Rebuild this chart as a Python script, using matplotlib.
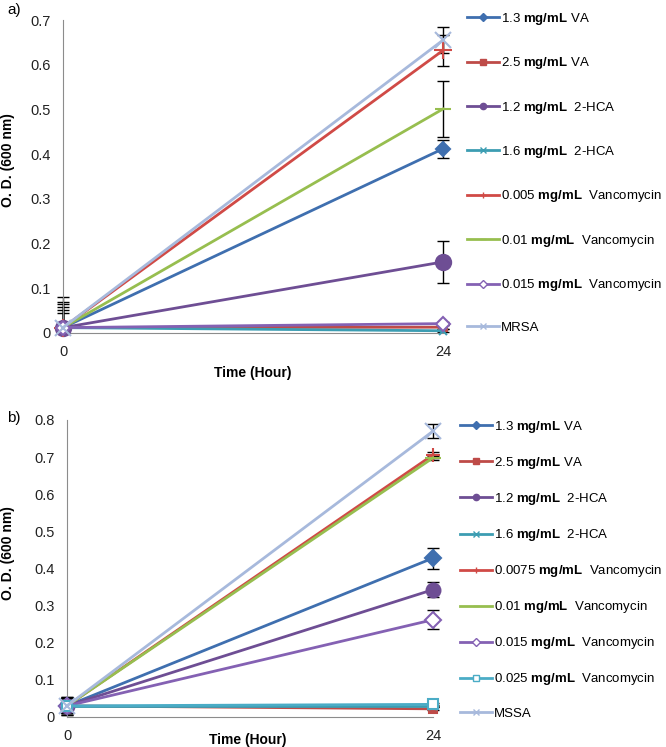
import matplotlib
matplotlib.use("Agg")
import matplotlib.pyplot as plt
import numpy as np

plt.rcParams['font.family'] = ['Liberation Sans', 'DejaVu Sans']
plt.rcParams['mathtext.fontset'] = 'custom'
plt.rcParams['mathtext.rm'] = 'Liberation Sans'
plt.rcParams['mathtext.bf'] = 'Liberation Sans:bold'

hours = [0, 24]

# panel a (MRSA)
labels_a = ['1.3 $\\mathbf{mg/mL}$ VA', '2.5 $\\mathbf{mg/mL}$ VA',
            '1.2 $\\mathbf{mg/mL}$  2-HCA', '1.6 $\\mathbf{mg/mL}$  2-HCA',
            '0.005 $\\mathbf{mg/mL}$  Vancomycin', '0.01 $\\mathbf{mg/mL}$  Vancomycin',
            '0.015 $\\mathbf{mg/mL}$  Vancomycin', 'MRSA']
od0_a = [0.012, 0.012, 0.012, 0.012, 0.012, 0.012, 0.012, 0.012]
od24_a = [0.412, 0.013, 0.159, 0.005, 0.632, 0.501, 0.021, 0.655]
err0_a = [0.033, 0.046, 0.053, 0.005, 0.068, 0.057, 0.010, 0.040]
err24_a = [0.020, 0.004, 0.047, 0.003, 0.035, 0.063, 0.004, 0.029]

# panel b (MSSA)
labels_b = ['1.3 $\\mathbf{mg/mL}$ VA', '2.5 $\\mathbf{mg/mL}$ VA',
            '1.2 $\\mathbf{mg/mL}$  2-HCA', '1.6 $\\mathbf{mg/mL}$  2-HCA',
            '0.0075 $\\mathbf{mg/mL}$  Vancomycin', '0.01 $\\mathbf{mg/mL}$  Vancomycin',
            '0.015 $\\mathbf{mg/mL}$  Vancomycin', '0.025 $\\mathbf{mg/mL}$  Vancomycin',
            'MSSA']
od0_b = [0.030, 0.030, 0.030, 0.030, 0.030, 0.030, 0.030, 0.030, 0.030]
od24_b = [0.428, 0.022, 0.343, 0.030, 0.706, 0.698, 0.262, 0.034, 0.770]
err0_b = [0.020, 0.025, 0.015, 0.020, 0.025, 0.010, 0.015, 0.020, 0.020]
err24_b = [0.028, 0.004, 0.020, 0.003, 0.008, 0.005, 0.025, 0.004, 0.019]

# style per series: colour, marker, size, face
style_a = [('#3F6FAF', 'D', 7, None), ('#BE4B48', 's', 6, None),
           ('#6E4E94', 'o', 11, None), ('#3C9DB2', 'x', 6, None),
           ('#D04A46', '+', 13, None), ('#97BE4F', '_', 11, None),
           ('#8461B3', 'D', 7, 'white'), ('#A7B9DC', 'x', 12, None)]
style_b = [('#3F6FAF', 'D', 8, None), ('#BE4B48', 's', 6, None),
           ('#6E4E94', 'o', 10, None), ('#3C9DB2', 'x', 6, None),
           ('#D04A46', '+', 10, None), ('#97BE4F', '_', 11, None),
           ('#8461B3', 'D', 8, 'white'), ('#4BACC6', 's', 7, 'white'),
           ('#A7B9DC', 'x', 12, None)]


def draw(ax, labels, od0, od24, err0, err24, styles, ymax):
    for i in range(len(labels)):
        y = np.array([od0[i], od24[i]])
        e = np.array([err0[i], err24[i]])
        lower = np.minimum(e, y)
        c, m, ms, fc = styles[i]
        ax.errorbar(hours, y, yerr=[lower, e], fmt='none', ecolor='black',
                    elinewidth=1, capsize=4, capthick=1, clip_on=False, zorder=2)
        ax.plot(hours, y, color=c, lw=2, marker=m, ms=ms, mew=1.5,
                mfc=fc if fc else c, mec=c, label=labels[i], clip_on=False, zorder=3)
    ax.set_xlim(0, 24)
    ax.set_ylim(0, ymax)
    ax.set_xticks(hours)
    ax.set_yticks(np.arange(0, ymax + 0.01, 0.1))
    ax.set_yticklabels(['0'] + ['%.1f' % v for v in np.arange(0.1, ymax + 0.01, 0.1)])
    for s in ['top', 'right']:
        ax.spines[s].set_visible(False)
    for s in ['left', 'bottom']:
        ax.spines[s].set_color('#8c8c8c')
    ax.tick_params(length=0, labelsize=10.5, colors='#222222', pad=9)
    ax.set_ylabel('O. D. (600 nm)', fontweight='bold', fontsize=10)
    ax.set_xlabel('Time (Hour)', fontweight='bold', fontsize=10)


fig = plt.figure(figsize=(6.66, 7.47), dpi=100)
W, H = 666, 747

ax1 = fig.add_axes([63 / W, 1 - 333 / H, 380 / W, 313 / H])
draw(ax1, labels_a, od0_a, od24_a, err0_a, err24_a, style_a, 0.7)
ax1.yaxis.set_label_coords(-0.126, 0.553)
ax1.xaxis.set_label_coords(0.5, -0.105)
leg1 = ax1.legend(loc='upper left', bbox_to_anchor=(467 / W, 1 - 11 / H),
                  bbox_transform=fig.transFigure, frameon=False, fontsize=9.5,
                  handlelength=2.4, handletextpad=0.2, labelspacing=2.15,
                  borderpad=0, borderaxespad=0)

ax2 = fig.add_axes([67 / W, 1 - 717 / H, 366 / W, 297 / H])
draw(ax2, labels_b, od0_b, od24_b, err0_b, err24_b, style_b, 0.8)
ax2.yaxis.set_label_coords(-0.142, 0.552)
ax2.xaxis.set_label_coords(0.495, -0.054)
leg2 = ax2.legend(loc='upper left', bbox_to_anchor=(460 / W, 1 - 419 / H),
                  bbox_transform=fig.transFigure, frameon=False, fontsize=9.5,
                  handlelength=2.4, handletextpad=0.2, labelspacing=1.52,
                  borderpad=0, borderaxespad=0)

for leg in [leg1, leg2]:
    for h in leg.legend_handles:
        h.set_markersize(4.5)
        h.set_markeredgewidth(1)

fig.text(7 / W, 1 - 3 / H, 'a)', fontsize=11, va='top', ha='left')
fig.text(7 / W, 1 - 411 / H, 'b)', fontsize=11, va='top', ha='left')

fig.savefig('out.png', dpi=100)
